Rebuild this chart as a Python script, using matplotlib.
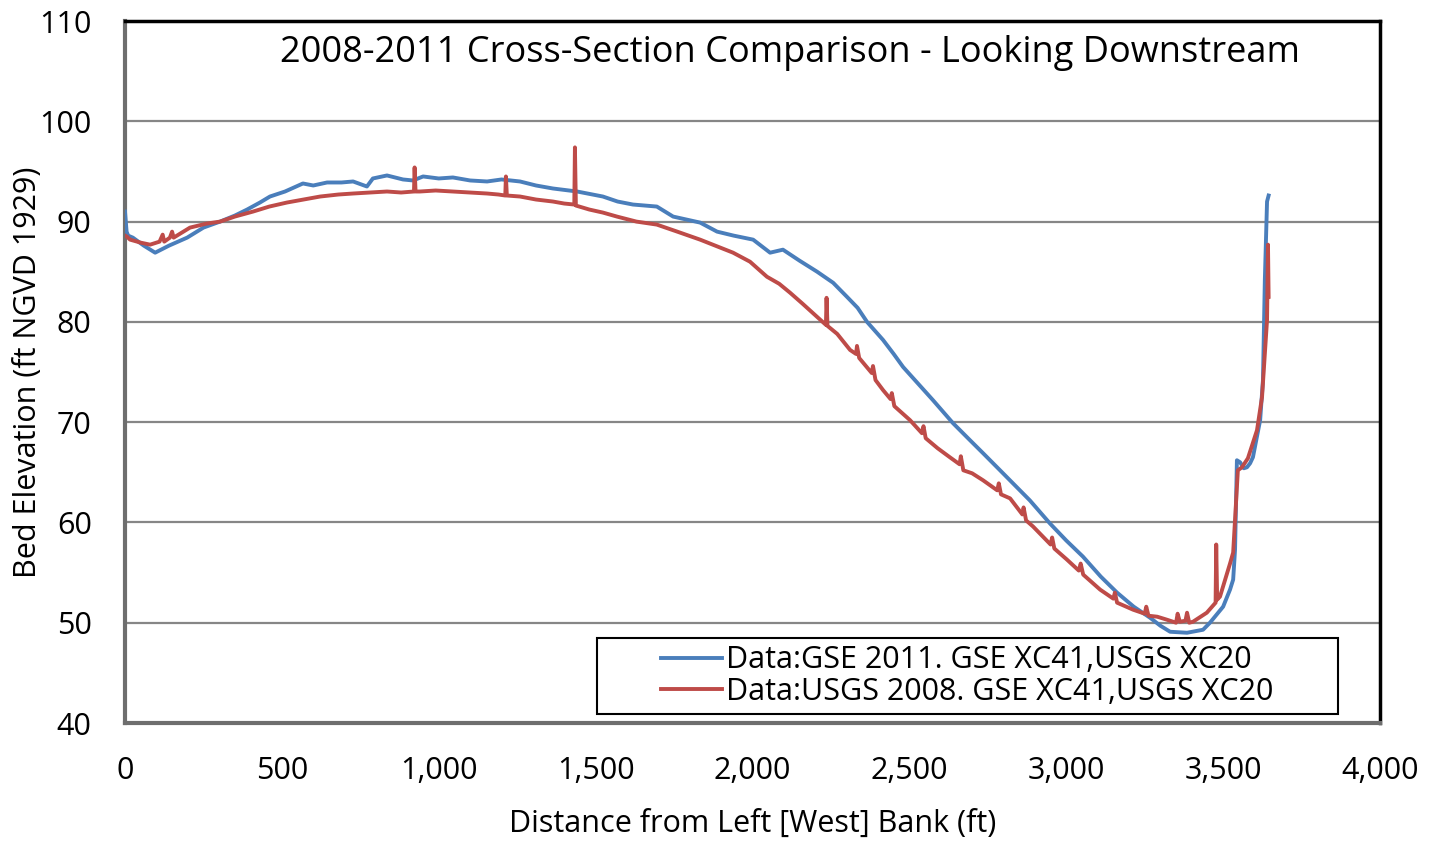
import matplotlib
matplotlib.use('Agg')

import matplotlib.pyplot as plt
from matplotlib.patches import Rectangle

plt.rcParams['font.family'] = ['Open Sans', 'DejaVu Sans']

# GSE 2011 survey (distance ft, elevation ft)
gse_x = [0, 5, 10, 25, 60, 96, 140, 198, 250, 303, 350, 389, 430, 462, 510,
         567, 600, 644, 690, 727, 771, 790, 835, 886, 918, 950, 1000, 1045,
         1100, 1154, 1200, 1259, 1310, 1364, 1441, 1523, 1570, 1619, 1695,
         1747, 1790, 1833, 1887, 1940, 2002, 2056, 2097, 2150, 2206, 2257,
         2301, 2335, 2365, 2416, 2450, 2480, 2575, 2639, 2690, 2735, 2789,
         2884, 2948, 3000, 3053, 3110, 3162, 3215, 3267, 3300, 3331, 3385,
         3436, 3458, 3500, 3522, 3532, 3538, 3544, 3554, 3566, 3576, 3586,
         3595, 3618, 3627, 3633, 3640, 3645]
gse_y = [91.0, 89.0, 88.6, 88.4, 87.6, 86.9, 87.6, 88.4, 89.4, 90.0, 90.6,
         91.2, 91.9, 92.5, 93.0, 93.8, 93.6, 93.9, 93.9, 94.0, 93.5, 94.3,
         94.6, 94.2, 94.1, 94.5, 94.3, 94.4, 94.1, 94.0, 94.2, 94.0, 93.6,
         93.3, 93.0, 92.5, 92.0, 91.7, 91.5, 90.5, 90.2, 89.9, 89.0, 88.6,
         88.2, 86.9, 87.2, 86.1, 85.0, 83.9, 82.5, 81.4, 80.0, 78.2, 76.8,
         75.5, 72.2, 69.9, 68.3, 66.9, 65.2, 62.2, 59.9, 58.2, 56.6, 54.6,
         53.0, 51.6, 50.5, 49.7, 49.1, 49.0, 49.3, 50.0, 51.6, 53.3, 54.3,
         57.3, 66.2, 66.0, 65.4, 65.5, 65.9, 66.5, 70.2, 74.2, 84.2, 92.0,
         92.6]

# USGS 2008 survey
usgs_x = [0, 6, 16, 50, 80, 110, 120, 125, 143, 150, 155, 207, 260, 303,
          350, 408, 460, 516, 570, 622, 680, 727, 780, 835, 880, 921, 923,
          926, 940, 990, 1045, 1100, 1154, 1190, 1212, 1214, 1217, 1259,
          1310, 1364, 1400, 1432, 1434, 1437, 1480, 1523, 1568, 1630, 1695,
          1760, 1833, 1890, 1938, 1992, 2046, 2085, 2120, 2160, 2206, 2234,
          2236, 2239, 2270, 2311, 2330, 2333, 2340, 2380, 2384, 2392, 2416,
          2440, 2444, 2452, 2502, 2540, 2545, 2552, 2590, 2629, 2660, 2664,
          2672, 2700, 2735, 2780, 2785, 2792, 2821, 2860, 2864, 2872, 2894,
          2950, 2955, 2962, 3002, 3040, 3046, 3054, 3108, 3150, 3155, 3162,
          3213, 3250, 3255, 3262, 3290, 3321, 3350, 3355, 3362, 3380, 3385,
          3392, 3404, 3448, 3476, 3478, 3481, 3490, 3522, 3532, 3547, 3560,
          3579, 3608, 3624, 3640, 3643, 3645]
usgs_y = [88.6, 88.5, 88.2, 87.9, 87.7, 88.0, 88.7, 88.0, 88.4, 89.0, 88.4,
          89.4, 89.8, 90.0, 90.5, 91.0, 91.5, 91.9, 92.2, 92.5, 92.7, 92.8,
          92.9, 93.0, 92.9, 93.0, 95.4, 93.0, 93.0, 93.1, 93.0, 92.9, 92.8,
          92.7, 92.6, 94.5, 92.6, 92.5, 92.2, 92.0, 91.8, 91.7, 97.4, 91.6,
          91.2, 90.9, 90.5, 90.0, 89.7, 89.0, 88.2, 87.5, 86.9, 86.0, 84.5,
          83.8, 82.9, 81.8, 80.5, 79.7, 82.4, 79.6, 78.8, 77.2, 76.8, 77.6,
          76.4, 74.9, 75.6, 74.2, 73.2, 72.3, 72.9, 71.6, 70.2, 68.9, 69.6,
          68.4, 67.4, 66.5, 65.8, 66.6, 65.2, 64.9, 64.2, 63.2, 63.9, 62.8,
          62.4, 60.8, 61.5, 60.2, 59.6, 57.8, 58.5, 57.4, 56.3, 55.2, 55.9,
          54.8, 53.3, 52.4, 53.0, 52.0, 51.3, 50.9, 51.6, 50.7, 50.6, 50.3,
          50.0, 50.9, 50.1, 50.2, 51.0, 50.0, 50.1, 51.0, 52.0, 57.8, 52.3,
          52.6, 55.9, 57.0, 65.2, 65.5, 66.4, 69.2, 72.5, 80.2, 87.7, 82.5]

x_ticks = [0, 500, 1000, 1500, 2000, 2500, 3000, 3500, 4000]
y_ticks = [40, 50, 60, 70, 80, 90, 100, 110]

fig = plt.figure(figsize=(14.42, 8.41), dpi=100)
ax = fig.add_axes([0.0867, 0.1403, 0.8703, 0.8347])

ax.plot(gse_x, gse_y, color='#4A7EBB', lw=2.8,
        label='Data:GSE 2011. GSE XC41,USGS XC20', zorder=3)
ax.plot(usgs_x, usgs_y, color='#BE4B48', lw=2.8,
        label='Data:USGS 2008. GSE XC41,USGS XC20', zorder=4)

ax.set_xlim(0, 4000)
ax.set_ylim(40, 110)
ax.set_xticks(x_ticks)
ax.set_yticks(y_ticks)
ax.set_xticklabels([f'{t:,}' for t in x_ticks])
ax.tick_params(length=0, labelsize=22)
ax.tick_params(axis='x', pad=24)
ax.tick_params(axis='y', pad=24)

ax.grid(axis='y', color='#868686', lw=1.6)
ax.set_axisbelow(True)

for side in ['top', 'right']:
    ax.spines[side].set_color('black')
    ax.spines[side].set_linewidth(2.5)
for side in ['left', 'bottom']:
    ax.spines[side].set_color('#6e6e6e')
    ax.spines[side].set_linewidth(3)

ax.set_xlabel('Distance from Left [West] Bank (ft)', fontsize=22, labelpad=16)
ax.set_ylabel('Bed Elevation (ft NGVD 1929)', fontsize=22, labelpad=-3)

ax.text(0.53, 0.955, '2008-2011 Cross-Section Comparison - Looking Downstream',
        transform=ax.transAxes, ha='center', va='center', fontsize=26)

# legend frame drawn separately so the box can be wider than its content
ax.add_patch(Rectangle((0.376, 0.0128), 0.5905, 0.108, transform=ax.transAxes,
                       facecolor='white', edgecolor='black', lw=1.5, zorder=5))
ax.legend(loc='center', bbox_to_anchor=(0.671, 0.067), frameon=False,
          fontsize=22, handlelength=2.0, handletextpad=0.1, labelspacing=0.05,
          borderpad=0.1)

plt.savefig('out.png', dpi=100)
plt.close()
